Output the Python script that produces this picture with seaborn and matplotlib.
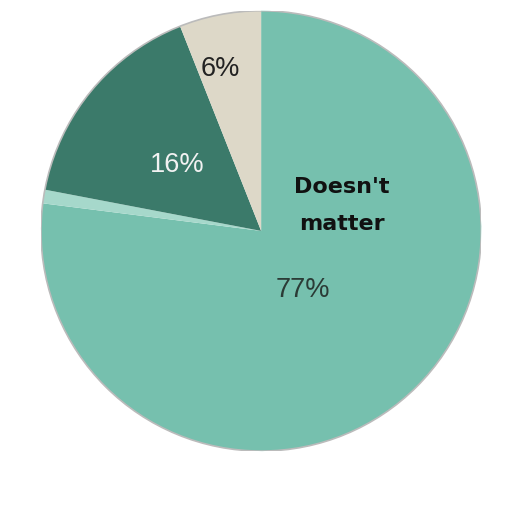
import matplotlib
matplotlib.use("Agg")
import matplotlib.pyplot as plt
import seaborn as sns
from matplotlib.patches import Circle

sns.set_theme(style="white")
plt.rcParams['font.family'] = ['Liberation Sans', 'DejaVu Sans']

categories = ["Doesn't matter", "No answer", "Option B", "Option C"]
values = [77, 1, 16, 6]
value_labels = ["77%", "", "16%", "6%"]
colors = ["#76C0AE", "#A6D8CB", "#3B7A6A", "#DDD8C8"]

fig = plt.figure(figsize=(5.12, 5.12), dpi=100)
ax = fig.add_axes([0.080, 0.119, 0.86, 0.86])
wedges, _ = ax.pie(values, colors=colors, startangle=90, counterclock=False,
                   radius=1, wedgeprops=dict(linewidth=0))
ax.add_patch(Circle((0, 0), 1, fill=False, edgecolor="#BBBBBB", linewidth=1.2))
ax.set_xlim(-1, 1)
ax.set_ylim(-1, 1)
ax.set_aspect("equal")
ax.axis("off")

bold = dict(ha="center", va="baseline", fontsize=16, fontweight="bold",
            color="#111111", family=["DejaVu Sans"])
ax.text(0.368, 0.173, "Doesn't", **bold)
ax.text(0.368, 0.005, "matter", **bold)

num = dict(ha="center", va="baseline", fontsize=19.5)
ax.text(0.19, -0.30, value_labels[0], color="#2B3B36", **num)
ax.text(-0.382, 0.268, value_labels[2], color="#F2F2F2", **num)
ax.text(-0.186, 0.705, value_labels[3], color="#222222", **num)

fig.savefig("out.png", dpi=100, facecolor="white")
